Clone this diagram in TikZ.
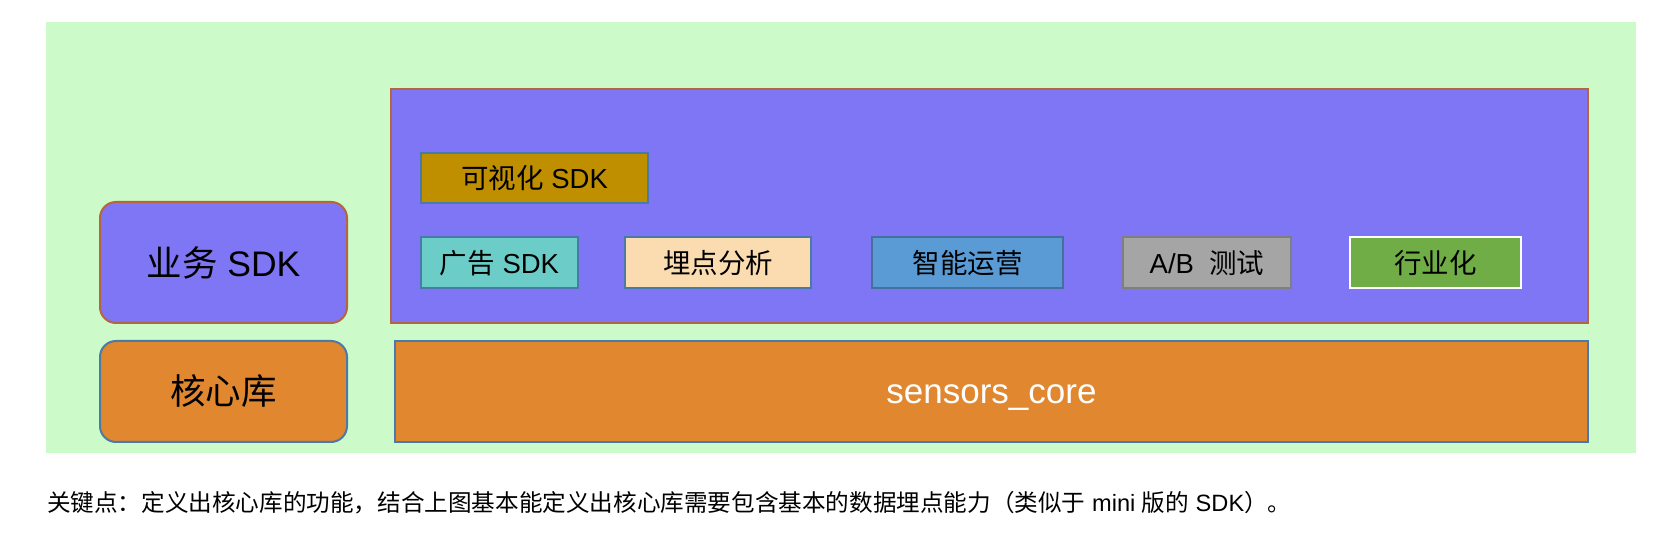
\documentclass[tikz,border=0pt]{standalone}
\usepackage{fontspec}
\setmainfont{Liberation Sans}
\newfontfamily\cjk{Noto Sans CJK SC}
\usepackage{tikz}
\usepackage{xcolor}
\definecolor{bgGreen}{HTML}{CCFAC8}
\definecolor{bizPurple}{HTML}{7E76F5}
\definecolor{bizBorder}{HTML}{B5653F}
\definecolor{coreOrange}{HTML}{E08730}
\definecolor{boxBorder}{HTML}{4A7AA8}
\definecolor{visGold}{HTML}{BF8F00}
\definecolor{adTeal}{HTML}{6CCDC8}
\definecolor{mdPeach}{HTML}{FADCB0}
\definecolor{znBlue}{HTML}{5B9BD5}
\definecolor{znBorder}{HTML}{41719C}
\definecolor{abGray}{HTML}{A5A5A5}
\definecolor{abBorder}{HTML}{7F7F7F}
\definecolor{hyGreen}{HTML}{70AD47}

\begin{document}
\begin{tikzpicture}[x=1pt,y=-1pt]
      \useasboundingbox(0,0) rectangle (1674,534);
      \tikzset{B/.style = {draw, line width=2pt, inner sep=0pt, text=black}}
      \tikzset{S/.style = {B, draw=boxBorder, minimum height=51pt, font=\fontsize{27.5}{33}\selectfont}}
      \tikzset{L/.style = {B, rounded corners=16pt, minimum width=247pt, font=\fontsize{35.5}{42}\selectfont}}
      \node[fill=bgGreen,minimum width=1590pt,minimum height=431pt,inner sep=0pt](bg) at (841,237.5) {};
      \node[L,fill=bizPurple,draw=bizBorder,minimum height=121pt](yw) at (223.5,262.5) {{\cjk 业务} SDK};
      \node[L,fill=coreOrange,draw=boxBorder,minimum height=101pt](hx) at (223.5,391.5) {\cjk 核心库};
      \node[B,fill=bizPurple,draw=bizBorder,minimum width=1197pt,minimum height=234pt](biz) at (989.5,206) {};
      \node[B,fill=coreOrange,draw=boxBorder,minimum width=1193pt,minimum height=101pt,text height=25pt,text depth=0pt,text=white,font=\fontsize{35}{42}\selectfont](core) at (991.5,391.5) {sensors\_core};
      \node[S,fill=visGold,minimum width=227pt,minimum height=50pt](vis) at (534.5,178) {{\cjk 可视化} SDK};
      \node[S,fill=adTeal,minimum width=157pt](ad) at (499.5,263) {{\cjk 广告} SDK};
      \node[S,fill=mdPeach,minimum width=186pt](md) at (718,263) {\cjk 埋点分析};
      \node[S,fill=znBlue,draw=znBorder,minimum width=191pt](zn) at (967.5,263) {\cjk 智能运营};
      \node[S,fill=abGray,draw=abBorder,minimum width=168pt](ab) at (1207,263) {A/B\ \ {\cjk 测试}};
      \node[S,fill=hyGreen,draw=white,minimum width=171pt](hy) at (1435.5,263) {\cjk 行业化};
      \node[anchor=west,inner sep=0pt,font=\fontsize{23.6}{28}\selectfont](cap) at (47,503) {{\cjk 关键点：定义出核心库的功能，结合上图基本能定义出核心库需要包含基本的数据埋点能力（类似于} mini {\cjk 版的} SDK{\cjk ）。}};
    \end{tikzpicture}
\end{document}
